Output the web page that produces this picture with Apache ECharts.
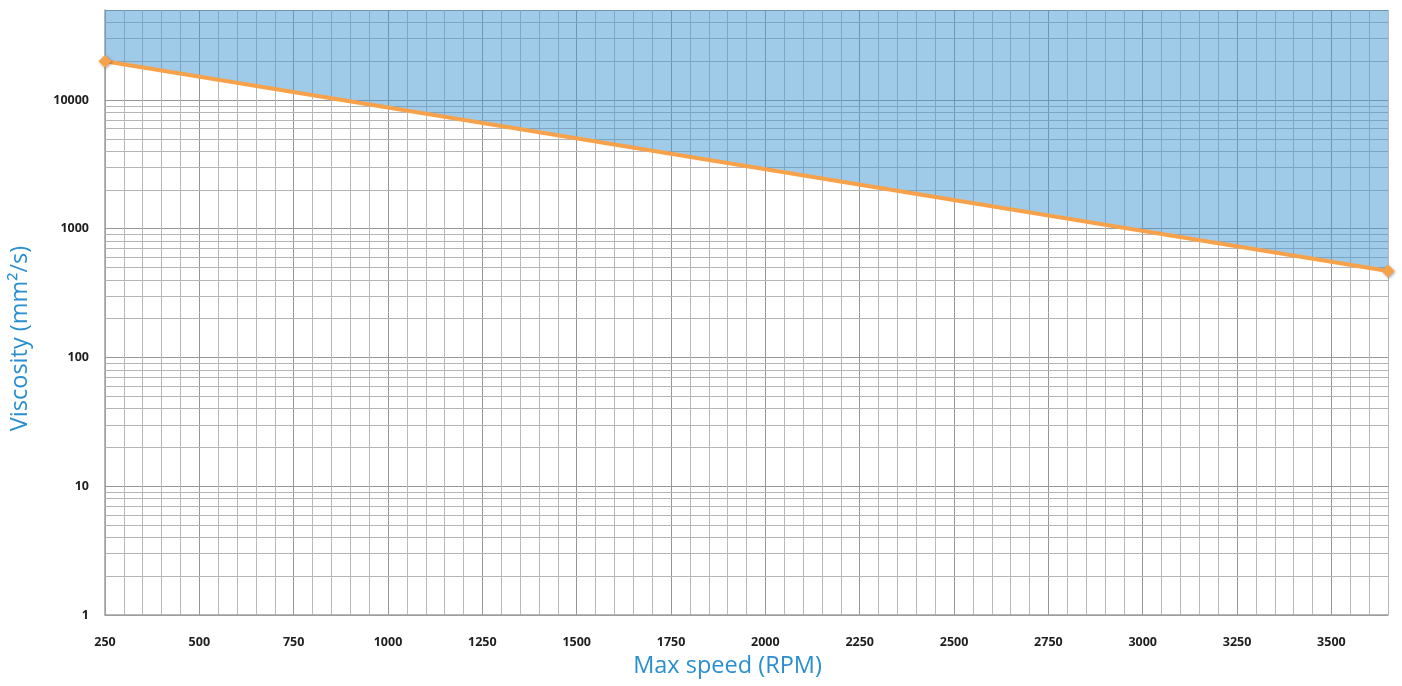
<!DOCTYPE html>
<html>
<head>
<meta charset="utf-8">
<script src="https://cdn.jsdelivr.net/npm/echarts@6/dist/echarts.min.js"></script>
<style>
html,body{margin:0;padding:0;background:#fff;}
#chart{width:1402px;height:686px;}
</style>
</head>
<body>
<div id="chart"></div>
<script>
// Data
const speedRPM = [250, 3650];
const viscosity = [20000, 470];
const xTickLabels = [250, 500, 750, 1000, 1250, 1500, 1750, 2000, 2250, 2500, 2750, 3000, 3250, 3500];
const yTickLabels = [1, 10, 100, 1000, 10000];
const minorGridValues = [2,3,4,5,6,7,8,9, 20,30,40,50,60,70,80,90, 200,300,400,500,600,700,800,900, 2000,3000,4000,5000,6000,7000,8000,9000, 20000,30000,40000];

const chart = echarts.init(document.getElementById('chart'));
const labelFont = {fontFamily: 'Open Sans', fontWeight: 'bold', fontSize: 12.5, color: '#1e1e1e'};
const nameFont = {fontFamily: 'Open Sans', fontSize: 23.5, color: '#2a8fd0'};

chart.setOption({
  animation: false,
  grid: {left: 104, right: 14, top: 10, bottom: 71},
  xAxis: {
    type: 'value', min: 250, max: 3650, interval: 50,
    name: 'Max speed (RPM)', nameLocation: 'middle', nameGap: 38,
    nameTextStyle: Object.assign({padding: [0, 38, 0, 0]}, nameFont),
    axisLine: {show: true, lineStyle: {color: '#a0a0a0', width: 1.5}},
    axisTick: {show: false},
    axisLabel: Object.assign({margin: 21, showMaxLabel: false,
      formatter: v => xTickLabels.indexOf(Math.round(v)) >= 0 ? String(Math.round(v)) : ''}, labelFont),
    splitLine: {show: true, lineStyle: {color: ['#969696', '#b8b8b8', '#b8b8b8', '#b8b8b8', '#b8b8b8'], width: 1}}
  },
  yAxis: {
    type: 'log', logBase: 10, min: 1, max: 50000,
    name: 'Viscosity (mm²/s)', nameLocation: 'middle', nameGap: 73,
    nameTextStyle: Object.assign({padding: [0, 52, 0, 0]}, nameFont),
    axisLine: {show: true, lineStyle: {color: '#a0a0a0', width: 1.5}},
    axisTick: {show: false},
    axisLabel: Object.assign({margin: 16, padding: [2, 0, 0, 0],
      formatter: v => {
        const r = Math.round(v);
        return yTickLabels.indexOf(r) >= 0 && Math.abs(v - r) < 1e-6 * r ? String(r) : '';
      }}, labelFont),
    splitLine: {show: true, lineStyle: {color: '#969696', width: 1}}
  },
  series: [
    {
      type: 'line', z: 1, silent: true,
      data: speedRPM.map((x, i) => [x, viscosity[i]]),
      showSymbol: false, lineStyle: {opacity: 0},
      markLine: {
        z: 1, silent: true, symbol: 'none', animation: false,
        label: {show: false},
        lineStyle: {color: '#b4b4b4', width: 1, type: 'solid'},
        data: minorGridValues.map(v => ({yAxis: v}))
      }
    },
    {
      type: 'line', z: 10,
      data: speedRPM.map((x, i) => [x, viscosity[i]]),
      symbol: 'diamond', symbolSize: 13,
      lineStyle: {color: '#f7a24b', width: 4},
      itemStyle: {color: '#f7a24b', shadowColor: 'rgba(0,0,0,0.35)', shadowBlur: 3, shadowOffsetX: 1, shadowOffsetY: 1},
      areaStyle: {origin: 'end', color: 'rgb(66,152,210)', opacity: 0.5}
    }
  ]
});
</script>
</body>
</html>
